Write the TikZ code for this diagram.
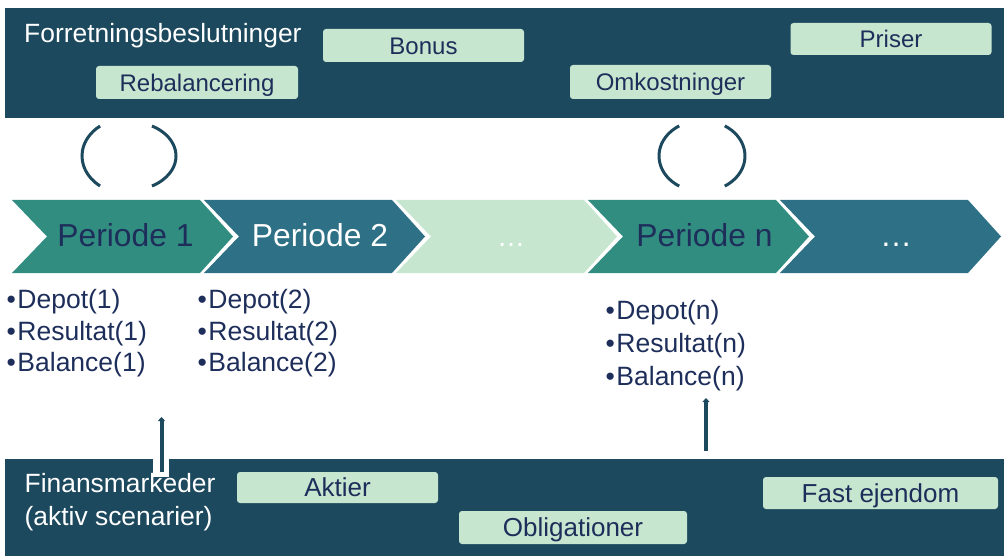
\documentclass[tikz,border=0pt]{standalone}
\usepackage{fontspec}
\setmainfont{Liberation Sans}
\usetikzlibrary{arrows.meta}
\definecolor{band}{RGB}{28,73,94}
\definecolor{chevA}{RGB}{50,141,129}
\definecolor{chevB}{RGB}{46,112,133}
\definecolor{lightg}{RGB}{198,230,207}
\definecolor{navy}{RGB}{30,46,90}
\begin{document}
\begin{tikzpicture}[x=1pt,y=-1pt,
  lblT/.style={fill=lightg, rounded corners=3pt, text=navy, inner sep=0pt,
    text height=17.2pt, text depth=0pt, font=\fontsize{24}{28}\selectfont},
  lblB/.style={fill=lightg, rounded corners=3pt, text=navy, inner sep=0pt,
    text height=18.6pt, text depth=0pt, font=\fontsize{26}{30}\selectfont},
  bandtxt/.style={anchor=base west, inner sep=0pt, text=white},
  pertxt/.style={anchor=base, inner sep=0pt, font=\fontsize{31.8}{36}\selectfont},
  bul/.style={anchor=base west, inner sep=0pt, text=navy, font=\fontsize{26.5}{30}\selectfont},
  paren/.style={draw=band, line width=3pt},
  uparrow/.style={draw=band, line width=4pt, -{Triangle[width=7pt,length=4pt]}}]
\useasboundingbox (0,0) rectangle (1004,556);
% bands
\fill[band] (5,8) rectangle (1004,118);
\fill[band] (5,459) rectangle (1004,556);
% top band labels
\node[bandtxt, font=\fontsize{26.4}{30}\selectfont] (fb) at (24,43) {Forretningsbeslutninger};
\node[lblT, minimum width=201pt, minimum height=33pt] (bonus) at (423.5,45.5) {Bonus};
\node[lblT, minimum width=201pt, minimum height=32pt] (priser) at (891,39) {Priser};
\node[lblT, minimum width=202pt, minimum height=33pt] (rebal) at (197,82.5) {Rebalancering};
\node[lblT, minimum width=201pt, minimum height=34pt] (omk) at (670.5,82) {Omkostninger};
% bottom band labels
\node[bandtxt, font=\fontsize{26.4}{30}\selectfont] (fm1) at (24.5,492) {Finansmarkeder};
\node[bandtxt, font=\fontsize{26.4}{30}\selectfont] (fm2) at (24.5,525) {(aktiv scenarier)};
\node[lblB, minimum width=201pt, minimum height=31pt] (aktier) at (337.5,487.5) {Aktier};
\node[lblB, minimum width=228pt, minimum height=33pt] (oblig) at (573,527.5) {Obligationer};
\node[lblB, minimum width=235pt, minimum height=32pt] (fast) at (880.5,493) {Fast ejendom};
% chevrons
\foreach \x/\c in {12/chevA,204/chevB,396/lightg,588/chevA,780/chevB}{
  \fill[\c] (\x,200) -- ++(188,0) -- ++(33,36.5) -- ++(-33,36.5) -- ++(-188,0) -- ++(35,-36.5) -- cycle;
}
\node[pertxt, text=navy] (p1) at (125.5,247) {Periode 1};
\node[pertxt, text=white] (p2) at (320,247) {Periode 2};
\node[pertxt, text=white, font=\fontsize{28}{32}\selectfont] (pd1) at (511,247) {…};
\node[pertxt, text=navy] (pn) at (704.5,247) {Periode n};
\node[pertxt, text=white, font=\fontsize{32}{36}\selectfont] (pd2) at (896,247) {…};
% parentheses arcs
\draw[paren] (129,156) ++(128:47 and 38) arc[start angle=128, end angle=232, x radius=47, y radius=38];
\draw[paren] (129,156) ++(-60.7:47 and 34.4) arc[start angle=-60.7, end angle=60.7, x radius=47, y radius=34.4];
\draw[paren] (702,156) ++(122:43 and 35.5) arc[start angle=122, end angle=238, x radius=43, y radius=35.5];
\draw[paren] (702,156) ++(-58:43 and 35.5) arc[start angle=-58, end angle=58, x radius=43, y radius=35.5];
% bullet lists
\node[bul] (d1) at (6.5,308) {•\kern1.5pt Depot(1)};
\node[bul] (r1) at (6.5,340) {•\kern1.5pt Resultat(1)};
\node[bul] (b1) at (6.5,371) {•\kern1.5pt Balance(1)};
\node[bul] (d2) at (197.5,308) {•\kern1.5pt Depot(2)};
\node[bul] (r2) at (197.5,340) {•\kern1.5pt Resultat(2)};
\node[bul] (b2) at (197.5,371) {•\kern1.5pt Balance(2)};
\node[bul] (dn) at (605.5,319) {•\kern1.5pt Depot(n)};
\node[bul] (rn) at (605.5,352) {•\kern1.5pt Resultat(n)};
\node[bul] (bn) at (605.5,385) {•\kern1.5pt Balance(n)};
% arrows
\fill[white] (153,459) rectangle (169,477);
\coordinate (a1s) at (161.5,472);
\coordinate (a1e) at (161.5,417);
\draw[uparrow] (a1s) -- (a1e);
\coordinate (a2s) at (706,451);
\coordinate (a2e) at (706,398);
\draw[uparrow] (a2s) -- (a2e);
\end{tikzpicture}
\end{document}
